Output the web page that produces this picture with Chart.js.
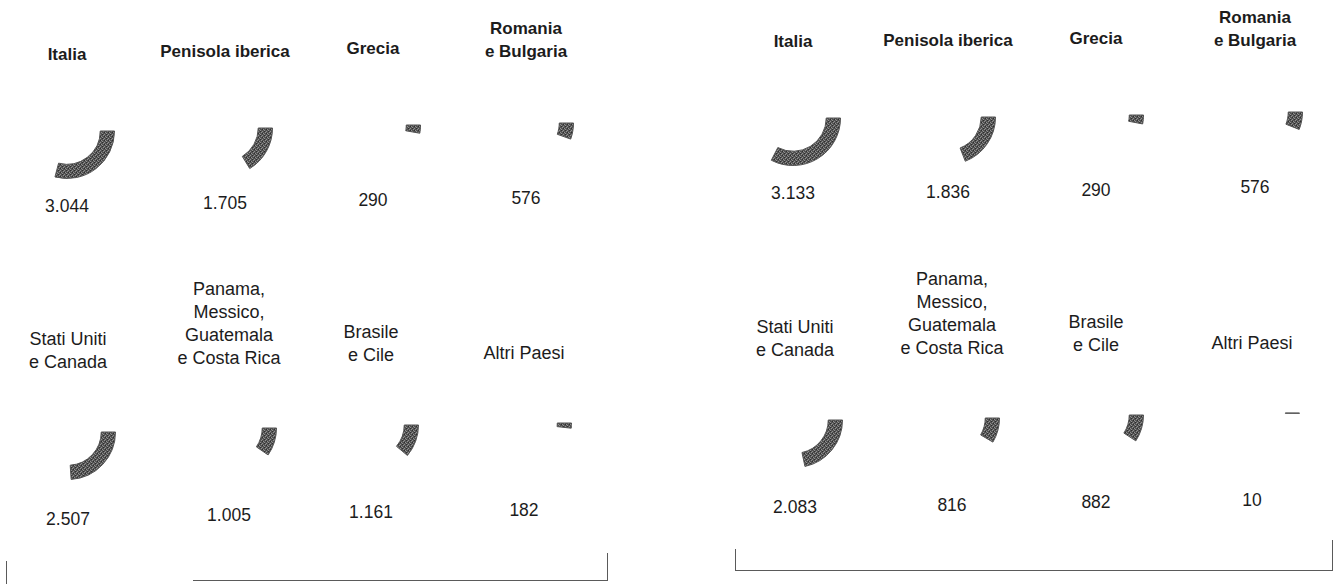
<!DOCTYPE html>
<html lang="it">
<head>
<meta charset="utf-8">
<title>Esportazioni per area</title>
<script src="https://cdn.jsdelivr.net/npm/chart.js@4/dist/chart.umd.min.js"></script>
<style>
  html, body { margin: 0; padding: 0; background: #fff; }
  body { width: 1342px; height: 584px; position: relative; overflow: hidden;
         font-family: "Liberation Sans", Arial, sans-serif; color: #1c1c1c; }
  .lbl { position: absolute; width: 180px; text-align: center; font-size: 18px; line-height: 23px; white-space: pre; }
  .lbl.top { font-weight: bold; font-size: 17px; }
  .val { position: absolute; width: 80px; text-align: center; font-size: 17.5px; line-height: 20px; }
  .arc { position: absolute; width: 96px; height: 96px; }
  .ln { position: absolute; background: #5a5a5a; }
</style>
</head>
<body>
<script>
// ---------- Dati ----------
const aree = [
  "Italia", "Penisola iberica", "Grecia", "Romania\ne Bulgaria",
  "Stati Uniti\ne Canada", "Panama,\nMessico,\nGuatemala\ne Costa Rica", "Brasile\ne Cile", "Altri Paesi"
];
const valoriA = [3044, 1705, 290, 576, 2507, 1005, 1161, 182];
const valoriB = [3133, 1836, 290, 576, 2083, 816, 882, 10];

// ---------- Posizioni (centro dell'arco) ----------
const posA = [[67, 131], [225, 128], [373, 125], [526, 123], [68, 432], [229, 428], [371, 425], [524, 423]];
const posB = [[793, 118], [948, 117], [1096, 115], [1255, 112], [795, 420], [952, 418], [1096, 415], [1252, 413]];

// retino grigio come nella stampa
function retino() {
  const c = document.createElement('canvas');
  c.width = 4; c.height = 4;
  const g = c.getContext('2d');
  g.fillStyle = '#525252';
  g.fillRect(0, 0, 4, 4);
  g.fillStyle = '#909090';
  g.fillRect(0, 0, 1, 1); g.fillRect(2, 1, 1, 1); g.fillRect(1, 3, 1, 1); g.fillRect(3, 2, 1, 1);
  g.fillStyle = '#2e2e2e';
  g.fillRect(1, 1, 1, 1); g.fillRect(3, 3, 1, 1);
  return g.createPattern(c, 'repeat');
}
const pattern = retino();

const fmt = v => String(v).replace(/\B(?=(\d{3})+(?!\d))/g, '.');

function addText(cls, text, left, top, width) {
  const d = document.createElement('div');
  d.className = cls;
  d.textContent = text;
  d.style.left = (left - width / 2) + 'px';
  d.style.top = top + 'px';
  document.body.appendChild(d);
}

function renderPanel(valori, pos) {
  const totale = valori.reduce((a, b) => a + b, 0);
  valori.forEach((v, i) => {
    const [x, y] = pos[i];
    const topRow = i < 4;
    const righe = aree[i].split('\n').length;
    // ultima riga dell'etichetta allineata sopra l'arco
    const off = topRow ? (i === 3 ? 72 : 77) : 70;
    addText('lbl' + (topRow ? ' top' : ''), aree[i], x, y - off - (righe - 0.5) * 23, 180);
    addText('val', fmt(v), x, y + (topRow ? 75 : 87) - 10, 80);

    const cv = document.createElement('canvas');
    cv.className = 'arc';
    cv.width = 96; cv.height = 96;
    cv.style.left = (x - 48) + 'px';
    cv.style.top = (y - 48) + 'px';
    document.body.appendChild(cv);

    new Chart(cv.getContext('2d'), {
      type: 'doughnut',
      data: {
        labels: [aree[i], ''],
        datasets: [{
          data: [v, totale - v],
          backgroundColor: [pattern, 'rgba(0,0,0,0)'],
          borderColor: ['#525252', 'rgba(0,0,0,0)'],
          borderWidth: [1, 0]
        }]
      },
      options: {
        responsive: false,
        animation: false,
        rotation: 90,
        cutout: '70%',
        layout: { padding: 0 },
        plugins: { legend: { display: false }, tooltip: { enabled: false } }
      }
    });
  });
}

function line(x, y, w, h) {
  const d = document.createElement('div');
  d.className = 'ln';
  Object.assign(d.style, { left: x + 'px', top: y + 'px', width: w + 'px', height: h + 'px' });
  document.body.appendChild(d);
}

renderPanel(valoriA, posA);
renderPanel(valoriB, posB);

// ---------- Parentesi in basso ----------
line(6, 561, 1, 23);
line(193, 580, 415, 1);
line(607, 553, 1, 28);
line(735, 549, 1, 22);
line(735, 570, 598, 1);
line(1332, 540, 1, 31);
</script>
</body>
</html>
